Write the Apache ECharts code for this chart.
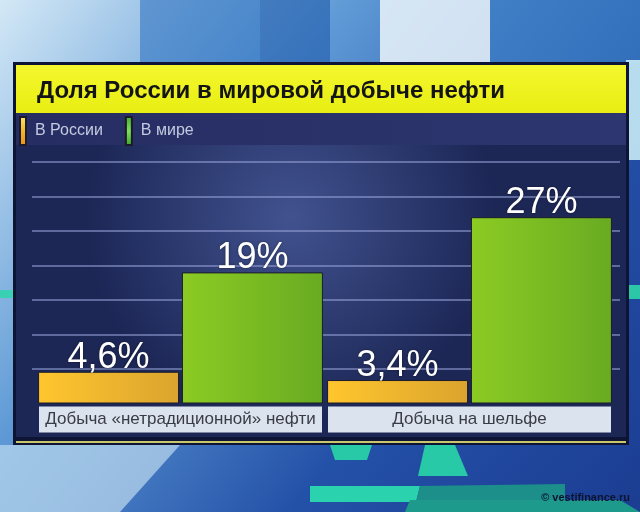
<!DOCTYPE html>
<html><head><meta charset="utf-8">
<script src="https://cdn.jsdelivr.net/npm/echarts@6/dist/echarts.min.js"></script>
<style>html,body{margin:0;padding:0;background:#fff}#c{width:640px;height:512px}</style>
</head><body><div id="c"></div>
<script>
const titleText = 'Доля России в мировой добыче нефти';
const seriesNames = ['В России', 'В мире'];
const categories = ['Добыча «нетрадиционной» нефти', 'Добыча на шельфе'];
const russia = [4.6, 3.4];
const world = [19, 27];
const axisMin = 0, axisMax = 35, axisStep = 5;
const credit = '© vestifinance.ru';

const chart = echarts.init(document.getElementById('c'), null, {renderer: 'canvas'});
const FF = '"Liberation Sans", Arial, sans-serif';
const lin = (x, y, x2, y2, stops) => new echarts.graphic.LinearGradient(x, y, x2, y2, stops.map((c, i) => ({offset: i / (stops.length - 1), color: c})));
const orange = lin(0, 0, 1, 0, ['#ffc62e', '#dba42e']);
const green = lin(0, 0, 1, 0, ['#8ccb23', '#68ab22']);
const fmt = p => String(p.value).replace('.', ',') + '%';

const valueLabel = {
  show: true, position: 'top', distance: -4, formatter: fmt,
  color: '#ffffff', fontSize: 36, fontFamily: FF, fontWeight: 'normal',
  textShadowColor: 'rgba(0,0,0,0.45)', textShadowBlur: 3
};

chart.setOption({
  backgroundColor: lin(0, 0, 1, 1, ['#d3e8f6', '#5f9ad6', '#2451a8', '#1b3d92']),
  animation: false,
  graphic: [
    {type: 'rect', z: -20, shape: {x: 140, y: 0, width: 120, height: 63}, style: {fill: 'rgba(40,110,190,0.55)'}},
    {type: 'rect', z: -20, shape: {x: 260, y: 0, width: 70, height: 63}, style: {fill: 'rgba(30,90,170,0.6)'}},
    {type: 'rect', z: -20, shape: {x: 380, y: 0, width: 110, height: 63}, style: {fill: 'rgba(235,245,250,0.85)'}},
    {type: 'rect', z: -20, shape: {x: 490, y: 0, width: 150, height: 63}, style: {fill: 'rgba(60,130,200,0.6)'}},
    {type: 'rect', z: -20, shape: {x: 626, y: 60, width: 14, height: 100}, style: {fill: 'rgba(200,235,245,0.9)'}},
    {type: 'rect', z: -20, shape: {x: 626, y: 285, width: 14, height: 14}, style: {fill: '#2cc6a8'}},
    {type: 'rect', z: -20, shape: {x: 0, y: 290, width: 16, height: 8}, style: {fill: '#3ad0b4'}},
    {type: 'polygon', z: -20, shape: {points: [[330, 445], [372, 445], [367, 460], [335, 460]]}, style: {fill: '#27c9a6'}},
    {type: 'polygon', z: -20, shape: {points: [[425, 445], [455, 445], [468, 476], [418, 476]]}, style: {fill: '#27c9a6'}},
    {type: 'polygon', z: -20, shape: {points: [[310, 486], [420, 486], [416, 502], [310, 502]]}, style: {fill: '#2ad3ad'}},
    {type: 'polygon', z: -20, shape: {points: [[420, 486], [565, 484], [565, 500], [416, 502]]}, style: {fill: '#1d8f8a'}},
    {type: 'polygon', z: -20, shape: {points: [[410, 500], [620, 500], [640, 512], [405, 512]]}, style: {fill: '#1e9a8c'}},
    {type: 'polygon', z: -20, shape: {points: [[0, 445], [180, 445], [120, 512], [0, 512]]}, style: {fill: 'rgba(190,220,240,0.7)'}},
    {type: 'rect', z: -15, shape: {x: 13, y: 62, width: 616, height: 383}, style: {fill: '#0e1434'}},
    {type: 'rect', z: -14, shape: {x: 16, y: 441, width: 610, height: 2}, style: {fill: '#c9c76a'}},
    {type: 'rect', z: -14, shape: {x: 16, y: 65, width: 610, height: 48}, style: {fill: lin(0, 0, 0, 1, ['#f4f72e', '#e8ee12'])}},
    {type: 'rect', z: -14, shape: {x: 16, y: 113, width: 610, height: 32}, style: {fill: lin(0, 0, 1, 0, ['#262d62', '#2d3670'])}},
    {type: 'rect', z: -14, shape: {x: 16, y: 145, width: 610, height: 292},
      style: {fill: new echarts.graphic.RadialGradient(0.45, 0.25, 0.7, [{offset: 0, color: '#41528f'}, {offset: 1, color: '#1c2756'}])}},
    {type: 'text', z: 10, right: 10, bottom: 9, style: {text: credit, fill: '#0c1430', font: 'bold 11px ' + FF}}
  ],
  title: {
    text: titleText, left: 32, top: 74,
    textStyle: {color: '#141414', fontSize: 24, fontWeight: 'bold', fontFamily: FF}
  },
  legend: {
    data: [
      {name: seriesNames[0], itemStyle: {color: lin(0, 0, 0, 1, ['#ffe46a', '#f5b52a', '#e8901c'])}},
      {name: seriesNames[1], itemStyle: {color: lin(0, 0, 0, 1, ['#3fae2a', '#7ee05a', '#3aa526'])}}
    ],
    left: 14, top: 111, itemWidth: 6, itemHeight: 28, itemGap: 22, icon: 'rect',
    textStyle: {color: '#c4cae0', fontSize: 16, fontFamily: FF, padding: [0, 0, 0, 4]}
  },
  grid: [
    {left: 36, right: 26, top: 162, bottom: 108.5},
    {left: 32, right: 20, top: 162, bottom: 108.5}
  ],
  xAxis: [
    {type: 'category', gridIndex: 0, data: categories, axisLine: {show: false}, axisTick: {show: false},
      axisLabel: {interval: 0, margin: 3, color: '#3a3b45', fontSize: 17, fontFamily: FF, width: 283, height: 26, lineHeight: 26,
        backgroundColor: '#dbe3ee', align: 'center', overflow: 'none'}},
    {type: 'category', gridIndex: 1, data: categories, show: false}
  ],
  yAxis: [
    {type: 'value', gridIndex: 0, min: axisMin, max: axisMax, interval: axisStep, show: false},
    {type: 'value', gridIndex: 1, min: axisMin, max: axisMax, interval: axisStep,
      axisLine: {show: false}, axisTick: {show: false}, axisLabel: {show: false},
      splitLine: {show: true, showMinLine: false, lineStyle: {color: 'rgba(150,160,215,0.75)', width: 1.5}}}
  ],
  series: [
    {name: seriesNames[0], type: 'bar', data: russia, barWidth: 141, barGap: '2%',
      itemStyle: {color: orange, borderColor: '#1a1c2a', borderWidth: 1}, label: valueLabel},
    {name: seriesNames[1], type: 'bar', data: world, barWidth: 141, barGap: '2%',
      itemStyle: {color: green, borderColor: '#1a1c2a', borderWidth: 1}, label: valueLabel}
  ]
});
</script></body></html>
